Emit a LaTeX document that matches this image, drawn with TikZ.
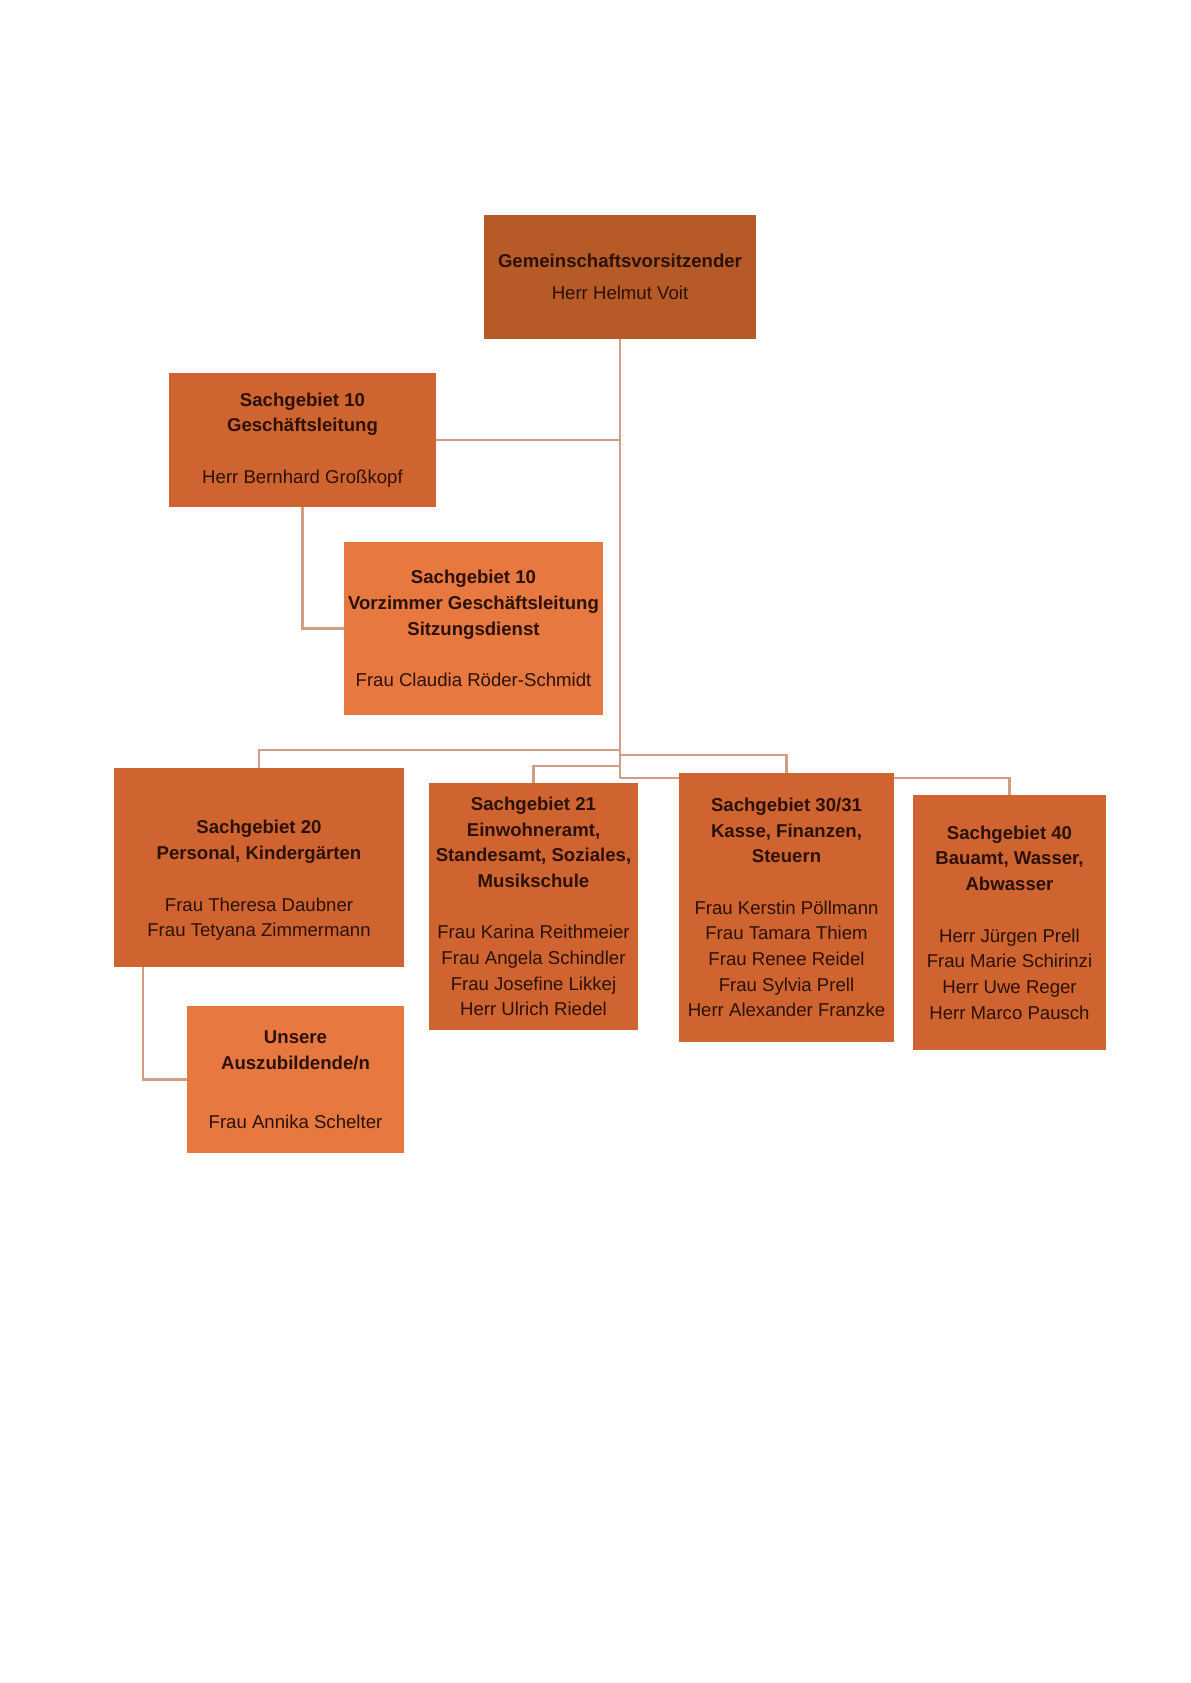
\documentclass[tikz,border=0pt]{standalone}
\usepackage{fontspec}
\setmainfont{Liberation Sans}
\usetikzlibrary{backgrounds}
\definecolor{dunkel}{HTML}{B65A28}
\definecolor{mittel}{HTML}{CF6430}
\definecolor{hell}{HTML}{E67840}
\definecolor{linie}{HTML}{D39C85}
\definecolor{schrift}{HTML}{2B1109}
\tikzstyle{amt}=[rectangle, inner sep=0pt, align=center, text=schrift, font=\fontsize{9.3}{12.85}\selectfont]
\tikzstyle{kante}=[draw=linie, line width=1.2pt]
\newcommand{\amt}{\node[amt]}

\begin{document}
\begin{tikzpicture}[x=0.5pt, y=-0.5pt]
\useasboundingbox (0,0) rectangle (1190,1683);
\amt[fill=dunkel, minimum width=136pt, minimum height=62pt] (gv) at (620,277) {\textbf{Gemeinschaftsvorsitzender}\\[3.2pt]Herr Helmut Voit};
\amt[fill=mittel, minimum width=133.5pt, minimum height=67pt] (sg10) at (302.5,440) {\textbf{Sachgebiet 10}\\\textbf{Geschäftsleitung}\\[\baselineskip]Herr Bernhard Großkopf};
\amt[fill=hell, minimum width=129.5pt, minimum height=86.5pt] (vz) at (473.5,628.5) {\textbf{Sachgebiet 10}\\\textbf{Vorzimmer Geschäftsleitung}\\\textbf{Sitzungsdienst}\\[\baselineskip]Frau Claudia Röder-Schmidt};
\amt[fill=mittel, minimum width=145pt, minimum height=99.5pt] (sg20) at (259,867.5) {};
\amt (sg20text) at (259,880.5) {\textbf{Sachgebiet 20}\\\textbf{Personal, Kindergärten}\\[\baselineskip]Frau Theresa Daubner\\Frau Tetyana Zimmermann};
\amt[fill=hell, minimum width=108.5pt, minimum height=73.5pt] (azubi) at (295.5,1079.5) {\textbf{Unsere}\\\textbf{Auszubildende/n}\\[16.5pt]Frau Annika Schelter};
\amt[fill=mittel, minimum width=104.5pt, minimum height=123.5pt] (sg21) at (533.5,906.5) {\textbf{Sachgebiet 21}\\\textbf{Einwohneramt,}\\\textbf{Standesamt, Soziales,}\\\textbf{Musikschule}\\[\baselineskip]Frau Karina Reithmeier\\Frau Angela Schindler\\Frau Josefine Likkej\\Herr Ulrich Riedel};
\amt[fill=mittel, minimum width=107.5pt, minimum height=134.5pt] (sg30) at (786.5,907.5) {\textbf{Sachgebiet 30/31}\\\textbf{Kasse, Finanzen,}\\\textbf{Steuern}\\[\baselineskip]Frau Kerstin Pöllmann\\Frau Tamara Thiem\\Frau Renee Reidel\\Frau Sylvia Prell\\Herr Alexander Franzke};
\amt[fill=mittel, minimum width=96.5pt, minimum height=127.5pt] (sg40) at (1009.5,922.5) {\textbf{Sachgebiet 40}\\\textbf{Bauamt, Wasser,}\\\textbf{Abwasser}\\[\baselineskip]Herr Jürgen Prell\\Frau Marie Schirinzi\\Herr Uwe Reger\\Herr Marco Pausch};
\coordinate (k20) at (620,750);
\coordinate (k30) at (620,755);
\coordinate (k21) at (620,766);
\coordinate (k40) at (620,778);
\coordinate (kA) at (143,967);
\begin{pgfonlayer}{background}
\fill[white] (0,0) rectangle (1190,1683);
\draw[kante] (gv.south) -- (k40);
\draw[kante] (sg10.east) -- (sg10.east -| gv.south);
\draw[kante] (sg10.south) |- (vz.west);
\draw[kante] (sg20.north) |- (k20);
\draw[kante] (sg21.north) |- (k21);
\draw[kante] (sg30.north) |- (k30);
\draw[kante] (sg40.north) |- (k40);
\draw[kante] (kA) |- (azubi.west);
\end{pgfonlayer}
\end{tikzpicture}
\end{document}
